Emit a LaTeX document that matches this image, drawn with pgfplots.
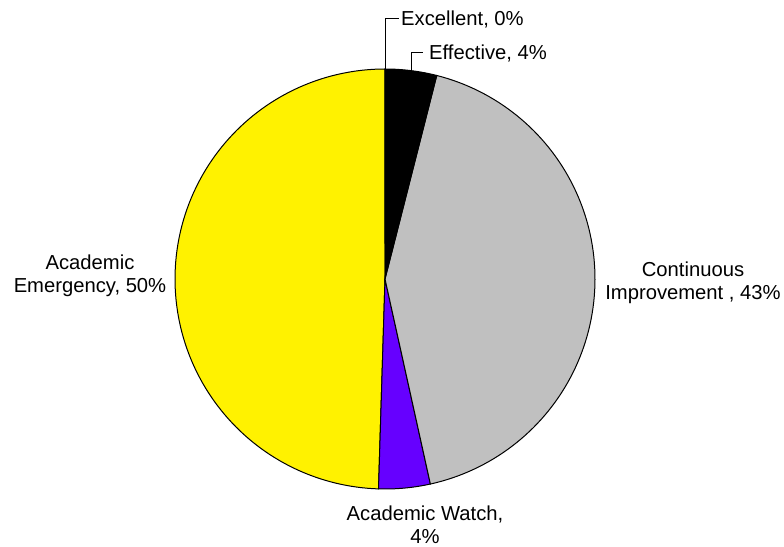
\documentclass[border=0pt]{standalone}
\usepackage{pgfplots}
\pgfplotsset{compat=1.18}
\usepackage{pgfplotstable}
\usepackage{fontspec}
\setmainfont{Liberation Sans}
\definecolor{cYellow}{RGB}{255,242,0}
\definecolor{cPurple}{RGB}{102,0,255}
\definecolor{cGrey}{RGB}{192,192,192}
\pgfplotstableread{
cat value
Excellent 0
Effective 4
Continuous 43
Watch 4
Emergency 50
}\piedata
\begin{document}
\pgfplotstablegetelem{0}{value}\of\piedata\edef\vA{\pgfplotsretval}%
\pgfplotstablegetelem{1}{value}\of\piedata\edef\vB{\pgfplotsretval}%
\pgfplotstablegetelem{2}{value}\of\piedata\edef\vC{\pgfplotsretval}%
\pgfplotstablegetelem{3}{value}\of\piedata\edef\vD{\pgfplotsretval}%
\pgfplotstablegetelem{4}{value}\of\piedata\edef\vE{\pgfplotsretval}%
\pgfmathsetmacro\tot{\vA+\vB+\vC+\vD+\vE}%
\pgfmathsetmacro\aA{90}%
\pgfmathsetmacro\aB{\aA-(\vA/\tot)*360}%
\pgfmathsetmacro\aC{\aB-(\vB/\tot)*360}%
\pgfmathsetmacro\aD{\aC-(\vC/\tot)*360}%
\pgfmathsetmacro\aE{\aD-(\vD/\tot)*360}%
\pgfmathsetmacro\aF{\aE-(\vE/\tot)*360}%
\begin{tikzpicture}
\begin{axis}[
  name=pie,
  scale only axis, width=784bp, height=547bp,
  xmin=0, xmax=784, ymin=0, ymax=547,
  hide axis, clip=false,
  trig format plots=deg,
]
\addplot[draw=black, fill=cYellow, line width=1bp, domain=\aF:\aE, samples=120, variable=\t]
  ({385+210*cos(\t)},{268+210*sin(\t)}) -- (axis cs:385,268) -- cycle;
\addplot[draw=black, fill=cPurple, line width=1bp, domain=\aE:\aD, samples=20, variable=\t]
  ({385+210*cos(\t)},{268+210*sin(\t)}) -- (axis cs:385,268) -- cycle;
\addplot[draw=black, fill=cGrey, line width=1bp, domain=\aD:\aC, samples=100, variable=\t]
  ({385+210*cos(\t)},{268+210*sin(\t)}) -- (axis cs:385,268) -- cycle;
\addplot[draw=black, fill=black, line width=1bp, domain=\aC:\aB, samples=20, variable=\t]
  ({385+210*cos(\t)},{268+210*sin(\t)}) -- (axis cs:385,268) -- cycle;
% leader lines
\addplot[black, line width=1bp] coordinates {(385.5,478) (385.5,528) (399,528)};
\addplot[black, line width=1bp] coordinates {(411.5,477) (411.5,494) (423,494)};
% labels
\node[anchor=west, inner sep=2bp, font=\fontsize{20.3}{23}\selectfont] at (axis cs:399,528) {Excellent, 0\%};
\node[anchor=west, inner sep=2bp, font=\fontsize{20.3}{23}\selectfont] at (axis cs:427,494) {Effective, 4\%};
\node[align=center, inner sep=0pt, font=\fontsize{20.3}{23}\selectfont] at (axis cs:693,264) {Continuous\\Improvement , 43\%};
\node[align=center, inner sep=0pt, font=\fontsize{20.3}{23}\selectfont] at (axis cs:90,271) {Academic\\Emergency, 50\%};
\node[align=center, inner sep=0pt, font=\fontsize{20.3}{23}\selectfont] at (axis cs:425,22) {Academic Watch,\\4\%};
\end{axis}
\pgfresetboundingbox
\path[use as bounding box] (pie.south west) rectangle (pie.north east);
\end{tikzpicture}
\end{document}
